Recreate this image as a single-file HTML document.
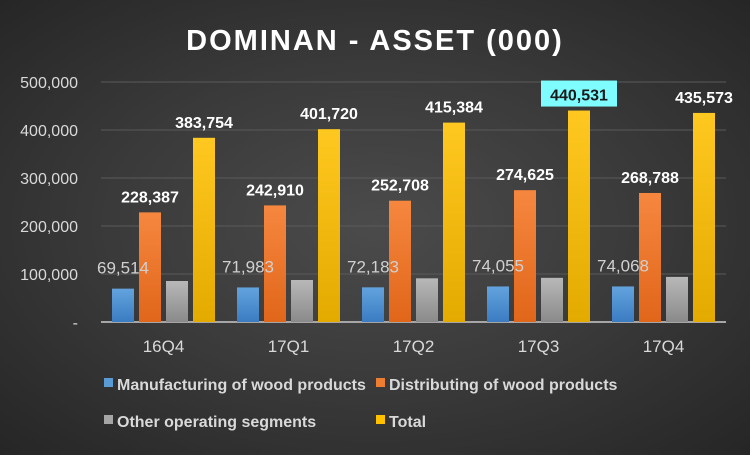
<!DOCTYPE html>
<html><head><meta charset="utf-8"><style>
html,body{margin:0;padding:0}
body{width:750px;height:450px;overflow:hidden;background:radial-gradient(ellipse at 50% 50%,#4b4b4b 0%,#3a3a3a 50%,#262626 100%);font-family:"Liberation Sans",sans-serif}
</style></head><body>
<svg id="chart" width="750" height="450" xmlns="http://www.w3.org/2000/svg">
<defs>
<linearGradient id="gb" x1="0" y1="0" x2="0" y2="1"><stop offset="0" stop-color="#62a3de"/><stop offset="1" stop-color="#3b7cc2"/></linearGradient>
<linearGradient id="go" x1="0" y1="0" x2="0" y2="1"><stop offset="0" stop-color="#f6873f"/><stop offset="1" stop-color="#e0661a"/></linearGradient>
<linearGradient id="gg" x1="0" y1="0" x2="0" y2="1"><stop offset="0" stop-color="#b8b8b8"/><stop offset="1" stop-color="#8a8a8a"/></linearGradient>
<linearGradient id="gy" x1="0" y1="0" x2="0" y2="1"><stop offset="0" stop-color="#ffc820"/><stop offset="1" stop-color="#e3aa00"/></linearGradient>
</defs>
<text x="375" y="50" text-anchor="middle" fill="#ffffff" font-size="29" font-weight="bold" letter-spacing="2">DOMINAN - ASSET (000)</text>
<g id="grid"></g><g id="bars"></g><g id="labels"></g>
<g font-size="16" font-weight="bold" fill="#d9d9d9">
<rect x="104" y="378" width="9" height="9" fill="#5b9bd5"/>
<text x="117" y="390">Manufacturing of wood products</text>
<rect x="376" y="378" width="9" height="9" fill="#ed7d31"/>
<text x="389" y="390">Distributing of wood products</text>
<rect x="104" y="415" width="9" height="9" fill="#a5a5a5"/>
<text x="117" y="427">Other operating segments</text>
<rect x="376" y="415" width="9" height="9" fill="#ffc000"/>
<text x="389" y="427">Total</text>
</g>
</svg>
<script>
const categories=["16Q4","17Q1","17Q2","17Q3","17Q4"];
const manufacturing=[69514,71983,72183,74055,74068];
const distributing=[228387,242910,252708,274625,268788];
const other=[85400,87500,91000,92000,94000];
const total=[383754,401720,415384,440531,435573];
const yTicks=[0,100000,200000,300000,400000,500000];
const highlightIndex=3;

const NS="http://www.w3.org/2000/svg";
const x0=101,catW=125,y0=322,pxPer=48/100000;
const yS=v=>y0-v*pxPer;
const xC=i=>x0+catW*(i+0.5);
const fmt=v=>v===0?"-":v.toLocaleString("en-US");
function mk(tag,attrs,parent,text){const e=document.createElementNS(NS,tag);for(const k in attrs)e.setAttribute(k,attrs[k]);if(text!==undefined)e.textContent=text;parent.appendChild(e);return e;}
const grid=document.getElementById("grid"),bars=document.getElementById("bars"),labels=document.getElementById("labels");
yTicks.forEach(t=>{
  if(t>0){const l=mk("line",{x1:x0,x2:x0+catW*categories.length,y1:yS(t),y2:yS(t),stroke:"#5a5a5a","stroke-width":1},grid);
  
  }
  const tx=mk("text",{x:78,y:yS(t)+6,"text-anchor":"end",fill:"#d9d9d9","font-size":"16"},grid,fmt(t));
  
  
});
const ax=mk("line",{x1:x0,x2:x0+catW*categories.length,y1:y0,y2:y0,stroke:"#a6a6a6","stroke-width":2},grid);


const series=[[manufacturing,"url(#gb)","manufacturing"],[distributing,"url(#go)","distributing"],[other,"url(#gg)","other"],[total,"url(#gy)","total"]];
const bw=22,gap=5;
categories.forEach((c,i)=>{
  const start=xC(i)-(4*bw+3*gap)/2;
  series.forEach((s,j)=>{
    const v=s[0][i],x=start+j*(bw+gap);
    const r=mk("rect",{x:x,y:yS(v),width:bw,height:y0-yS(v),fill:s[1]},bars);
    
    
    if(j===0){
      const t=mk("text",{x:x+bw/2,y:yS(v)-15,"text-anchor":"middle",fill:"#d0d0d0","font-size":"17"},labels,fmt(v));
      
      
    } else if(j===1||j===3){
      const cx=x+bw/2,cy=yS(v)-10;
      if(j===3&&i===highlightIndex){
        const b=mk("rect",{x:cx-38,y:cy-20,width:76,height:26,fill:"#7ffcff"},labels);
        
        
      }
      const t=mk("text",{x:cx,y:cy,"text-anchor":"middle",fill:(j===3&&i===highlightIndex)?"#1a1a1a":"#ffffff","font-size":"16","font-weight":"bold"},labels,fmt(v));
      
      
    }
  });
  const xl=mk("text",{x:xC(i),y:352,"text-anchor":"middle",fill:"#d9d9d9","font-size":"17"},labels,c);
  
  
});
</script>
</body></html>
